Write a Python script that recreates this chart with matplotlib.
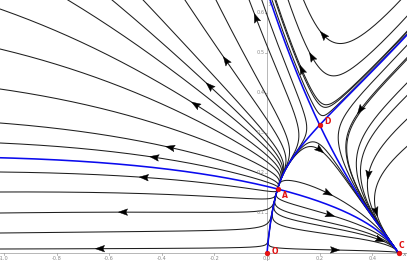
import numpy as np
import matplotlib
matplotlib.use("Agg")
import matplotlib.pyplot as plt
from matplotlib.patches import Polygon

# equilibrium points
PT_NAMES = ["O", "A", "D", "C"]
PT_X = [0.0, 0.04, 0.2, 0.5]
PT_Y = [0.0, 0.16, 0.32, 0.0]
LABEL_DX = [5, 4, 5, 0]     # label offsets in px
LABEL_DY = [2, -6, 4, 7]

# vector field coefficients (fitted by eye to the separatrices)
R_Y2, T_X2Y, K_G, H_CURV, E_MIX, F_MIX = 0.117, -0.333, 2.140, 3.312, 3.783, -0.251

# streamlines out of A, by where they leave the left / top edge
LEFT_EDGE_Y = [0.61, 0.51, 0.41, 0.325, 0.275, 0.2025, 0.1525, 0.10, 0.05, 0.01]
TOP_EDGE_X = [-0.757, -0.589, -0.471, -0.312, -0.194, -0.068, -0.02]
# arrows on those (snapped to the nearest streamline)
FAN_ARROW_X = [-0.635, -0.548, -0.471, -0.433, -0.361, -0.285, -0.224, -0.152, -0.046]
FAN_ARROW_Y = [0.0125, 0.1025, 0.1775, 0.2175, 0.28, 0.3575, 0.4125, 0.4825, 0.5875]

# streamlines on the right, seeded at their arrow
ARROW_X = [0.2015, 0.233, 0.24, 0.2585, 0.354, 0.385, 0.4145, 0.43, 0.132, 0.17, 0.214]
ARROW_Y = [0.2575, 0.149, 0.095, 0.0075, 0.3575, 0.195, 0.103, 0.0325, 0.459, 0.4908, 0.545]
# plain streamlines on the right, by a point they cross
INNER_X = [0.3, 0.3, 0.3, 0.3, 0.39, 0.47, 0.515, 0.019, 0.03]
INNER_Y = [0.212, 0.187, 0.066, 0.041, 0.3825, 0.3825, 0.3825, 0.6325, 0.6325]

X_TICKS = [-1.0, -0.8, -0.6, -0.4, -0.2, 0.0, 0.2, 0.4]
Y_TICKS = [0.1, 0.2, 0.3, 0.4, 0.5, 0.6]

XLIM = (-1.015, 0.532)
YLIM = (-0.02, 0.6325)
SX, SY = 407 / (XLIM[1] - XLIM[0]), 261 / (YLIM[1] - YLIM[0])   # px per unit

XA, YA, XD, YD = PT_X[1], PT_Y[1], PT_X[2], PT_Y[2]
S_NULL = (YD - YA) / (XD - XA)
_M = np.array([[YA, XA * YA], [YD, XD * YD]])
_b = -np.array([XA - 2 * XA**2 + R_Y2 * YA**2 + T_X2Y * XA**2 * YA,
                XD - 2 * XD**2 + R_Y2 * YD**2 + T_X2Y * XD**2 * YD])
P_Y, Q_XY = np.linalg.solve(_M, _b)


def field(x, y):
    F = x - 2 * x**2 + P_Y * y + Q_XY * x * y + R_Y2 * y**2 + T_X2Y * x**2 * y
    G = K_G * y * ((y - YA) - S_NULL * (x - XA) + H_CURV * (x - XA) * (x - XD))
    return F + F_MIX * G, G + E_MIX * y * F


def jac(x, y, hh=1e-6):
    u1, v1 = field(x + hh, y); u0, v0 = field(x - hh, y)
    u3, v3 = field(x, y + hh); u2, v2 = field(x, y - hh)
    return np.array([[(u1 - u0) / (2 * hh), (u3 - u2) / (2 * hh)],
                     [(v1 - v0) / (2 * hh), (v3 - v2) / (2 * hh)]])


def eigs(x, y):
    w, V = np.linalg.eig(jac(x, y))
    w = np.real(w); V = np.real(V)
    i = np.argsort(w)
    return w[i], V[:, i]


def step(x, y, sign, ds):
    u, v = field(x, y)
    du, dv = u * SX, v * SY
    n = np.hypot(du, dv) + 1e-15
    return sign * du / n * ds / SX, sign * dv / n * ds / SY


def integrate(x0, y0, sign, ds=1.0, nmax=4000):
    xs, ys = [x0], [y0]
    x, y = x0, y0
    for i in range(nmax):
        a1 = step(x, y, sign, ds)
        a2 = step(x + a1[0] / 2, y + a1[1] / 2, sign, ds)
        a3 = step(x + a2[0] / 2, y + a2[1] / 2, sign, ds)
        a4 = step(x + a3[0], y + a3[1], sign, ds)
        x += (a1[0] + 2 * a2[0] + 2 * a3[0] + a4[0]) / 6
        y += (a1[1] + 2 * a2[1] + 2 * a3[1] + a4[1]) / 6
        xs.append(x); ys.append(y)
        if x < XLIM[0] - 0.02 or x > XLIM[1] + 0.02 or y < YLIM[0] or y > YLIM[1] + 0.02:
            break
        if i > 8 and any(np.hypot((x - px) * SX, (y - py) * SY) < 1.2 for px, py in zip(PT_X, PT_Y)):
            break
    return np.array(xs), np.array(ys)


def through(x0, y0):
    xb, yb = integrate(x0, y0, -1)
    xf, yf = integrate(x0, y0, 1)
    return np.r_[xb[::-1], xf[1:]], np.r_[yb[::-1], yf[1:]], len(xb) - 1


def draw_arrow(ax, x, y, dx, dy, L=4.6, W=3.3, notch=1.6):
    d = np.array([dx * SX, dy * SY])
    d /= np.hypot(*d)
    n = np.array([-d[1], d[0]])
    pts = [L * d, -L * d + W * n, -L * d + notch * d, -L * d - W * n]
    ax.add_patch(Polygon([(x + p[0] / SX, y + p[1] / SY) for p in pts],
                         closed=True, fc="black", ec="black", lw=0.3, zorder=4))


fig = plt.figure(figsize=(4.07, 2.61), dpi=100)
ax = fig.add_axes([0, 0, 1, 1])
ax.set_xlim(*XLIM); ax.set_ylim(*YLIM)
ax.axis("off")

# axes in the GeoGebra manner
AX_C = "#9a9a9a"
ax.plot(XLIM, [0, 0], color=AX_C, lw=0.5, zorder=1)
ax.plot([0, 0], YLIM, color=AX_C, lw=0.5, zorder=1)
for t in X_TICKS:
    ax.plot([t, t], [0, -2.0 / SY], color=AX_C, lw=0.5, zorder=1)
    ax.text(t, -3.2 / SY, "%.1f" % t, fontsize=3.6, color="#888888", ha="center", va="top")
for t in Y_TICKS:
    ax.plot([0, -2.0 / SX], [t, t], color=AX_C, lw=0.5, zorder=1)
    ax.text(-2.5 / SX, t, "%.1f" % t, fontsize=3.6, color="#888888", ha="right", va="center")
ax.text(XLIM[1] - 3 / SX, -2 / SY, "x", fontsize=4.5, color="#777777", style="italic",
        ha="center", va="center")
ax.text(3 / SX, YLIM[1] - 4 / SY, "y", fontsize=4.5, color="#777777", style="italic",
        ha="center", va="center")

LC, LW = "#1e1e1e", 0.75

# the fan out of the source A
fan = []
for y0 in LEFT_EDGE_Y:
    xs, ys = integrate(XLIM[0], y0, -1)
    fan.append((xs[::-1], ys[::-1]))
for x0 in TOP_EDGE_X:
    xs, ys = integrate(x0, YLIM[1], -1)
    fan.append((xs[::-1], ys[::-1]))
for xs, ys in fan:
    ax.plot(xs, ys, color=LC, lw=LW, zorder=2)
for x0, y0 in zip(FAN_ARROW_X, FAN_ARROW_Y):
    best = None
    for xs, ys in fan:
        dd = np.hypot((xs - x0) * SX, (ys - y0) * SY)
        i = int(np.argmin(dd))
        if best is None or dd[i] < best[0]:
            best = (dd[i], xs, ys, i)
    _, xs, ys, i = best
    i = min(max(i, 2), len(xs) - 3)
    draw_arrow(ax, xs[i], ys[i], xs[i + 2] - xs[i - 2], ys[i + 2] - ys[i - 2])

# right-hand part of the portrait
for x0, y0 in zip(ARROW_X, ARROW_Y):
    xs, ys, i = through(x0, y0)
    ax.plot(xs, ys, color=LC, lw=LW, zorder=2)
    draw_arrow(ax, x0, y0, xs[i + 4] - xs[i], ys[i + 4] - ys[i])
for x0, y0 in zip(INNER_X, INNER_Y):
    xs, ys, i = through(x0, y0)
    ax.plot(xs, ys, color=LC, lw=LW, zorder=2)

# separatrices in blue
for (px, py) in [(XD, YD), (XA, YA), (0.0, 0.0)]:
    w, V = eigs(px, py)
    for j in range(2):
        v = V[:, j] / np.hypot(V[0, j] * SX, V[1, j] * SY) * 2.5
        sg = 1 if w[j] > 0 else -1
        for s in (1, -1):
            if px == 0.0 and (w[j] > 0 or s * v[1] < 0):
                continue
            if px == XA and j == 0:
                continue
            xs, ys = integrate(px + s * v[0], py + s * v[1], sg)
            ax.plot(np.r_[px, xs], np.r_[py, ys], color="#0a0aee", lw=1.15, zorder=3)

ax.plot(PT_X, PT_Y, "o", color="#ee1111", ms=3.4, mec="#cc0000", mew=0.4, zorder=5)
for name, x, y, dx, dy in zip(PT_NAMES, PT_X, PT_Y, LABEL_DX, LABEL_DY):
    ax.text(x + dx / SX, y + dy / SY, name, fontsize=5.5, color="#e01010",
            fontweight="bold", ha="left", va="center", zorder=6)

fig.savefig("out.png")
